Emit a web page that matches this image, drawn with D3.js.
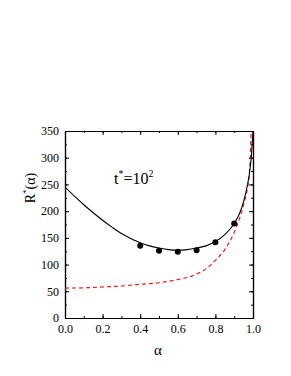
<!DOCTYPE html>
<html><head><meta charset="utf-8">
<script src="https://cdn.jsdelivr.net/npm/d3@7"></script>
<style>body{margin:0;background:#fff}svg{display:block}</style>
</head><body>
<script>
const xTicks = [0.0, 0.2, 0.4, 0.6, 0.8, 1.0];
const xTickLabels = ["0.0","0.2","0.4","0.6","0.8","1.0"];
const yTicks = [0, 50, 100, 150, 200, 250, 300, 350];
const pointAlpha = [0.4, 0.5, 0.6, 0.7, 0.8, 0.9];
const pointR = [135, 126, 124, 127, 142, 177];
const blackAlpha = [0, 0.05, 0.1, 0.15, 0.2, 0.25, 0.3, 0.35, 0.4, 0.45, 0.5, 0.55, 0.6, 0.65, 0.7, 0.75, 0.8, 0.85, 0.9, 0.93, 0.95, 0.97, 0.98, 0.99, 1.0];
const blackR = [245, 228, 212, 197, 183, 170, 158, 149, 141, 135, 131, 128, 127, 128, 131, 135, 143, 156, 177, 197, 218, 248, 268, 298, 350];
const redAlpha = [0, 0.1, 0.2, 0.3, 0.4, 0.5, 0.6, 0.7, 0.75, 0.8, 0.85, 0.9, 0.93, 0.95, 0.97, 0.98, 0.985, 0.99];
const redR = [56, 56.5, 58, 60, 63, 66, 72, 82, 92, 108, 128, 160, 188, 212, 242, 268, 300, 350];

const W = 291, H = 376;
const L = 65, R = 253, T = 131, B = 318;
const svg = d3.select("body").append("svg").attr("width", W).attr("height", H);
const x = d3.scaleLinear().domain([0, 1]).range([L, R]);
const y = d3.scaleLinear().domain([0, 350]).range([B, T]);
const font = "'Liberation Serif', serif";

svg.append("clipPath").attr("id","clip").append("rect").attr("x",L).attr("y",T).attr("width",R-L).attr("height",B-T);

const xMinor = d3.range(0, 1.0001, 0.1);
const yMinor = d3.range(0, 351, 25);
svg.append("g").attr("transform", `translate(0,${B})`)
  .call(d3.axisBottom(x).tickValues(xTicks).tickFormat((d,i)=>xTickLabels[i]).tickSizeInner(-4).tickSizeOuter(0).tickPadding(6));
svg.append("g").attr("transform", `translate(0,${T})`)
  .call(d3.axisTop(x).tickValues(xTicks).tickFormat("").tickSizeInner(-4).tickSizeOuter(0));
svg.append("g").attr("transform", `translate(${L},0)`)
  .call(d3.axisLeft(y).tickValues(yTicks).tickSizeInner(-4).tickSizeOuter(0).tickPadding(6));
svg.append("g").attr("transform", `translate(${R},0)`)
  .call(d3.axisRight(y).tickValues(yTicks).tickFormat("").tickSizeInner(-4).tickSizeOuter(0));
svg.append("g").attr("transform", `translate(0,${B})`).call(d3.axisBottom(x).tickValues(xMinor).tickFormat("").tickSizeInner(-2).tickSizeOuter(0));
svg.append("g").attr("transform", `translate(0,${T})`).call(d3.axisTop(x).tickValues(xMinor).tickFormat("").tickSizeInner(-2).tickSizeOuter(0));
svg.append("g").attr("transform", `translate(${L},0)`).call(d3.axisLeft(y).tickValues(yMinor).tickFormat("").tickSizeInner(-2).tickSizeOuter(0));
svg.append("g").attr("transform", `translate(${R},0)`).call(d3.axisRight(y).tickValues(yMinor).tickFormat("").tickSizeInner(-2).tickSizeOuter(0));
svg.selectAll("g").attr("font-family", font);
svg.selectAll(".domain").attr("stroke", "#000").attr("stroke-width", 1.2);
svg.selectAll(".tick line").attr("stroke", "#000");
svg.selectAll(".tick text").style("font-family", font).style("font-size", "12px").attr("fill", "#000");

const plot = svg.append("g").attr("clip-path","url(#clip)");
const line = d3.line().x(d=>x(d[0])).y(d=>y(d[1])).curve(d3.curveMonotoneX);
plot.append("path").datum(redAlpha.map((a,i)=>[a, redR[i]]))
  .attr("d", line).attr("fill","none").attr("stroke","#ff0000").attr("stroke-width",1.1).attr("stroke-dasharray","4,3");
plot.append("path").datum(blackAlpha.map((a,i)=>[a, blackR[i]]))
  .attr("d", line).attr("fill","none").attr("stroke","#000").attr("stroke-width",1.1);
svg.append("g").selectAll("circle").data(pointAlpha).join("circle")
  .attr("cx", d=>x(d)).attr("cy", (d,i)=>y(pointR[i])).attr("r", 3).attr("fill","#000");

const ann = svg.append("text").attr("x", 114).attr("y", 184).style("font-family", font).style("font-size", "16px");
ann.append("tspan").text("t");
ann.append("tspan").attr("dy", -7).style("font-size", "10px").text("*");
ann.append("tspan").attr("dy", 7).text("=10");
ann.append("tspan").attr("dy", -7).style("font-size", "10px").text("2");

svg.append("text").attr("x", 158).attr("y", 355).attr("text-anchor","middle").style("font-family", font).style("font-size", "15px").text("α");
const yl = svg.append("text").attr("transform","translate(35,188) rotate(-90)").attr("text-anchor","middle").style("font-family", font).style("font-size", "14px");
yl.append("tspan").text("R");
yl.append("tspan").attr("dy",-6).style("font-size","9px").text("*");
yl.append("tspan").attr("dy",6).text("(α)");
</script>
</body></html>
